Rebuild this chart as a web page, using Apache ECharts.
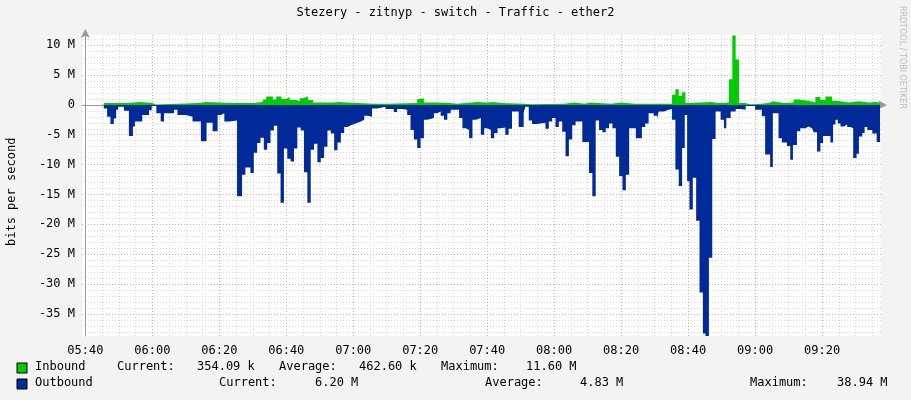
<!DOCTYPE html>
<html><head><meta charset="utf-8">
<script src="https://cdn.jsdelivr.net/npm/echarts@6/dist/echarts.min.js"></script>
<style>html,body{margin:0;padding:0;background:#f3f3f3}#c{width:911px;height:400px}</style>
</head><body><div id="c"></div>
<script>
// minutes after 05:40, value in M bits/s (step starts)
const outTimes = [5.5,6.5,7.5,8.5,9.2,9.8,11.5,13.0,14.2,14.8,17.0,19.0,19.8,21.2,22.5,23.5,26.5,27.5,30.0,32.0,34.5,36.2,38.0,39.5,40.5,41.5,43.0,
45.3,46.8,47.8,49.3,50.3,51.3,52.3,53.3,54.3,55.3,56.3,57.3,58.3,59.3,60.3,61.3,62.3,63.3,64.3,65.3,66.3,67.3,68.3,69.3,70.3,71.3,72.3,73.3,74.3,75.3,76.3,77.3,78.3,79.3,80.3,81.3,82.3,83.3,84.3,85.6,
87.1,89.6,92.1,93.1,94.6,96.1,97.1,98.1,99.1,100.1,101.1,102.1,104.1,105.1,106.1,107.1,108.1,109.1,111.6,112.6,113.6,114.6,115.6,116.6,118.1,119.1,120.1,121.1,122.1,123.1,124.1,
125.4,126.4,127.4,129.4,130.9,131.4,132.4,133.4,134.9,137.4,138.4,139.4,140.4,141.4,142.4,143.4,144.4,145.4,146.4,148.4,150.4,151.4,152.4,153.4,154.4,155.4,156.4,157.4,158.4,159.4,160.4,161.4,162.4,164.4,
166.2,167.2,168.2,169.7,170.7,171.2,172.7,174.2,175.2,176.2,177.2,178.2,179.0,179.7,180.4,181.4,182.4,183.4,184.4,185.2,186.2,187.2,188.2,189.7,190.7,191.4,192.7,194.2,195.7,197.2,
198.5,200.0,202.0,203.0,204.5,205.3,207.0,208.0,209.5,210.5,211.3,212.5,213.5,215.0,216.0,217.0,217.5,218.5,219.5,220.3,222.5,223.3,224.0,224.7,225.5,226.5,227.5,228.5,229.3,230.3,231.0,232.0,232.7,233.5,235.0,236.3,237.3];
const outValues = [-0.6,-2.0,-3.2,-2.3,-0.8,-0.3,-1.0,-5.2,-3.6,-2.8,-1.7,-0.9,-0.2,-1.4,-2.8,-1.4,-0.8,-1.7,-2.0,-2.8,-6.1,-3.0,-4.4,-1.7,-1.4,-2.8,-2.6,
-15.3,-11.7,-10.5,-11.4,-8.0,-6.4,-5.5,-7.5,-6.4,-4.3,-3.5,-11.5,-16.4,-7.3,-9.0,-9.5,-7.3,-3.8,-4.3,-11.3,-16.4,-7.5,-6.5,-9.6,-8.9,-7.0,-4.3,-4.8,-7.6,-6.3,-4.7,-3.7,-3.4,-3.2,-3.0,-2.8,-2.5,-1.8,-2.0,-0.6,
-0.3,-0.7,-1.2,-0.7,-0.8,-1.7,-4.2,-5.8,-7.2,-5.6,-2.5,-2.2,-1.4,-1.1,-1.8,-2.5,-1.4,-0.8,-2.2,-3.9,-4.2,-5.6,-2.5,-2.2,-5.0,-3.9,-4.2,-5.6,-4.7,-3.9,-3.8,
-5.0,-4.0,-1.1,-3.7,-1.3,-0.3,-2.6,-3.2,-3.0,-4.0,-2.8,-2.2,-3.7,-2.8,-4.5,-8.6,-5.8,-3.4,-2.8,-6.2,-11.4,-15.3,-2.6,-4.2,-4.6,-3.9,-3.1,-3.9,-8.7,-11.9,-14.3,-11.7,-3.9,-5.6,
-3.7,-3.1,-1.4,-1.8,-2.4,-1.1,-0.8,-0.7,-2.5,-10.8,-13.6,-7.2,-1.7,-12.8,-17.5,-12.2,-19.4,-31.4,-38.3,-38.94,-25.6,-5.7,-1.1,-2.5,-3.9,-2.2,-1.1,-0.7,-0.8,-0.2,
-0.2,-0.8,-1.9,-8.3,-10.4,-1.4,-5.6,-6.3,-6.9,-9.2,-6.7,-4.4,-3.9,-3.6,-3.9,-3.6,-4.6,-7.8,-6.4,-5.2,-6.3,-3.3,-2.5,-3.1,-3.6,-3.3,-3.7,-3.9,-8.9,-8.2,-5.3,-4.7,-3.7,-4.2,-4.8,-6.2,-6.2];
const inTimes = [5.5,12,16.5,20,21,34,36,44,50,53,54,56,57,58.5,60,61,63,64,65,66.5,68,74,76,78,86,90,99.1,100.1,101.1,105,109,111,117,120,122,
124,131,133,143,146,149,151,157,160,164,175.2,176.2,177.2,178.2,179.2,180,187,189,192.2,193.2,194.2,195.2,197,
198.5,200,204,205.5,208.5,211.5,213,216,218,219.5,221,223,224.5,228,231,234,236,237.3];
const inValues = [0.3,0.5,0.3,0.05,0.3,0.5,0.3,0.3,0.5,0.9,1.4,0.9,1.4,1.0,1.3,0.8,0.6,1.1,1.4,0.8,0.4,0.5,0.4,0.2,0.2,0.3,1.0,1.1,0.4,0.3,0.2,0.5,0.4,0.5,0.3,
0.2,0.1,0.2,0.4,0.2,0.4,0.2,0.4,0.2,0.2,1.7,2.6,1.5,2.1,0.3,0.5,0.3,0.4,4.3,11.6,7.6,0.3,0.1,
0.1,0.3,0.6,0.3,0.4,0.9,0.7,0.4,1.3,0.8,1.4,0.7,0.4,0.6,0.4,0.5,0.35,0.35];
const xTicks = ['05:40','06:00','06:20','06:40','07:00','07:20','07:40','08:00','08:20','08:40','09:00','09:20'];
const yTicks = [10,5,0,-5,-10,-15,-20,-25,-30,-35];

const pair = (t,v)=>t.map((x,i)=>[x,v[i]]);
const minorX=[],majorX=[],minorY=[],majorY=[];
for(let m=0;m<=237;m+=5){(m%20===0?majorX:minorX).push({xAxis:m});}
for(let v=-38;v<=11;v++){(v%5===0?majorY:minorY).push({yAxis:v});}
const mono='DejaVu Sans Mono';
const chart=echarts.init(document.getElementById('c'));
const lbl=(txt,x,y)=>({type:'text',x:x,y:y,zlevel:2,style:{text:txt,font:'12px "DejaVu Sans Mono"',fill:'#000'}});
chart.setOption({
 animation:false,
 backgroundColor:'#f3f3f3',
 grid:{left:82,right:30,top:35,bottom:64,backgroundColor:'#fff',show:true,borderWidth:0},
 xAxis:{type:'value',min:-1,max:237.6,splitNumber:12,zlevel:1,
   axisLine:{lineStyle:{color:'#999'},symbol:['none','arrow'],symbolSize:[7,9],symbolOffset:[0,6]},
   axisTick:{show:false},splitLine:{show:false},
   axisLabel:{showMinLabel:false,showMaxLabel:false,fontFamily:mono,fontSize:12,color:'#000',margin:9,
     formatter:v=>{const i=Math.round(v/20);return (v%20===0&&xTicks[i])?xTicks[i]:'';}}},
 yAxis:{type:'value',min:-38.7,max:11.7,splitNumber:10,zlevel:1,
   axisLine:{show:true,lineStyle:{color:'#999'},symbol:['none','arrow'],symbolSize:[7,9],symbolOffset:[0,6]},
   axisTick:{show:false},splitLine:{show:false},
   axisLabel:{showMinLabel:false,showMaxLabel:false,fontFamily:mono,fontSize:12,color:'#000',margin:7,
     formatter:v=>yTicks.includes(v)?(v===0?'0':v+' M'):''}},
 series:[
  {type:'line',data:[],silent:true,zlevel:0,markLine:{silent:true,symbol:'none',label:{show:false},animation:false,
    lineStyle:{color:'#d8d8d8',type:[1,2],width:1},data:minorX.concat(minorY)}},
  {type:'line',data:[],silent:true,zlevel:0,markLine:{silent:true,symbol:'none',label:{show:false},animation:false,
    lineStyle:{color:'#f0a0a0',type:[1,2],width:1},data:majorX.concat(majorY)}},
  {type:'line',data:[],silent:true,zlevel:0,markLine:{silent:true,symbol:'none',label:{show:false},animation:false,
    lineStyle:{color:'#333',type:'solid',width:1},data:[{yAxis:0}]}},
  {name:'Inbound',type:'line',step:'end',symbol:'none',zlevel:1,data:pair(inTimes,inValues),
    lineStyle:{width:0},areaStyle:{color:'#00cc00',opacity:1}},
  {name:'Outbound',type:'line',step:'end',symbol:'none',zlevel:1,data:pair(outTimes,outValues),
    lineStyle:{width:0},areaStyle:{color:'#002a97',opacity:1}}
 ],
 graphic:[
  {type:'text',left:'center',top:7,zlevel:2,style:{text:'Stezery - zitnyp - switch - Traffic - ether2',font:'12px "DejaVu Sans Mono"',fill:'#000'}},
  {type:'text',x:6,y:246,zlevel:2,rotation:Math.PI/2,style:{text:'bits per second',font:'12px "DejaVu Sans Mono"',fill:'#000'}},
  {type:'text',x:906,y:6,zlevel:2,rotation:-Math.PI/2,style:{text:'RRDTOOL / TOBI OETIKER',font:'8px "DejaVu Sans"',fill:'#bbb'}},
  {type:'rect',zlevel:2,shape:{x:17,y:363,width:10,height:10},style:{fill:'#00cc00',stroke:'#000',lineWidth:1}},
  {type:'rect',zlevel:2,shape:{x:17,y:379,width:10,height:10},style:{fill:'#002a97',stroke:'#000',lineWidth:1}},
  lbl('Inbound',35,361),lbl('Current:',117,361),lbl('354.09 k',197,361),lbl('Average:',279,361),lbl('462.60 k',359,361),lbl('Maximum:',441,361),lbl('11.60 M',526,361),
  lbl('Outbound',35,377),lbl('Current:',219,377),lbl('6.20 M',315,377),lbl('Average:',485,377),lbl('4.83 M',580,377),lbl('Maximum:',750,377),lbl('38.94 M',837,377)
 ]
});
</script></body></html>
